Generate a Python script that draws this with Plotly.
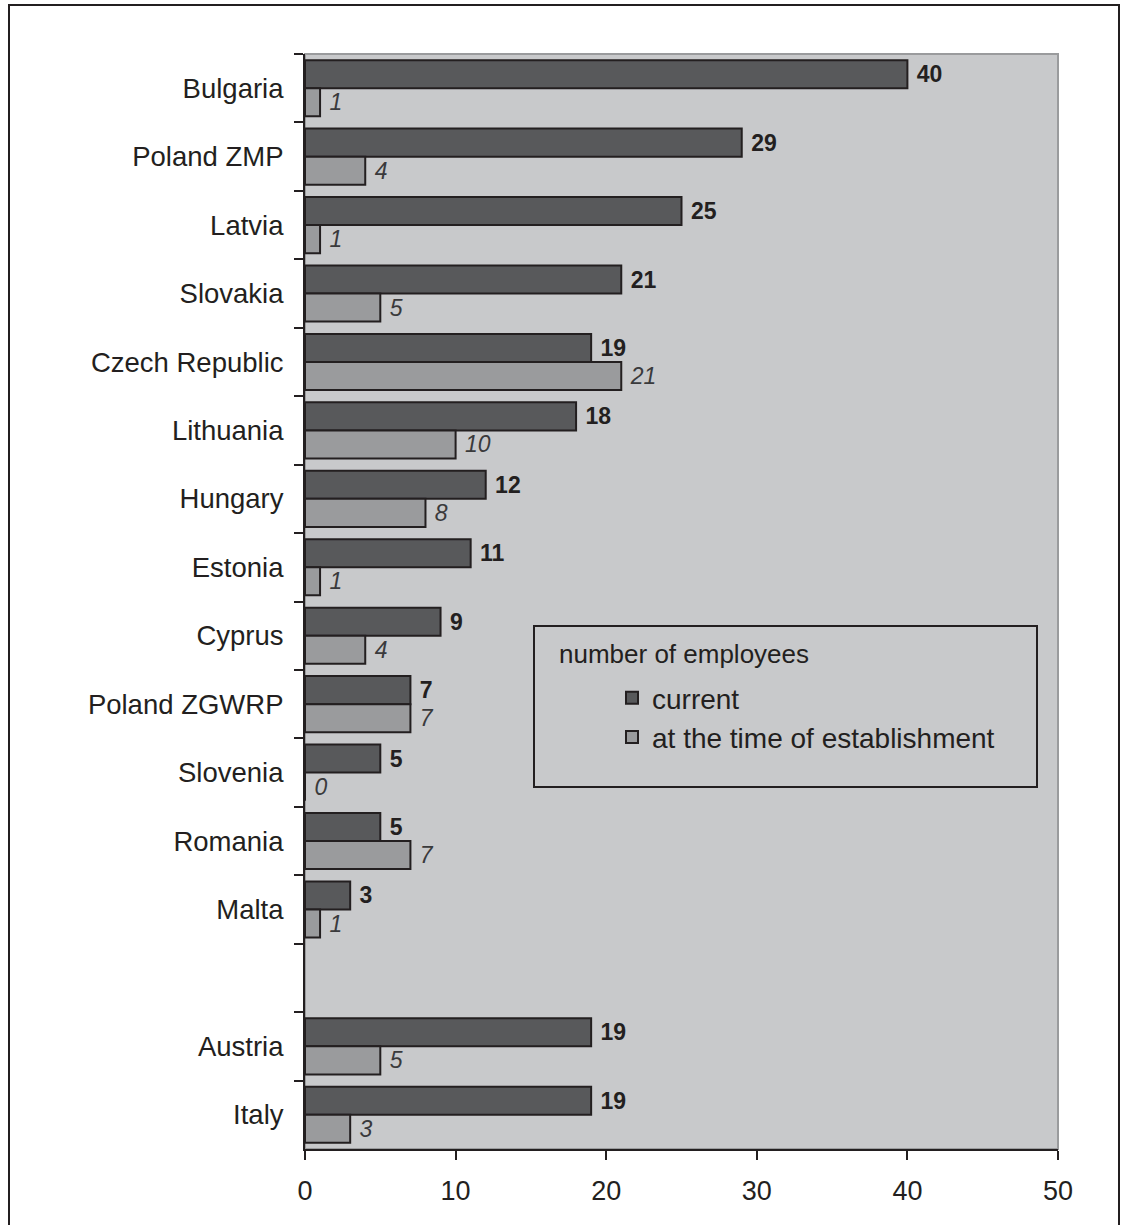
import plotly.graph_objects as go

categories = ["Bulgaria", "Poland ZMP", "Latvia", "Slovakia", "Czech Republic",
              "Lithuania", "Hungary", "Estonia", "Cyprus", "Poland ZGWRP",
              "Slovenia", "Romania", "Malta", " ", "Austria", "Italy"]
current = [40, 29, 25, 21, 19, 18, 12, 11, 9, 7, 5, 5, 3, None, 19, 19]
establishment = [1, 4, 1, 5, 21, 10, 8, 1, 4, 7, 0, 7, 1, None, 5, 3]
x_ticks = [0, 10, 20, 30, 40, 50]

FONT = "Liberation Sans, Arial, sans-serif"
TXT = "#231f20"

W, H = 1121, 1225
ML, MR, MT, MB = 305, 63, 54, 76
PW, PH = W - ML - MR, H - MT - MB

def px_x(p):
    return (p - ML) / PW

def px_y(p):
    return 1 - (p - MT) / PH

fig = go.Figure()
fig.add_trace(go.Bar(
    y=categories, x=current, orientation="h", name="current",
    marker=dict(color="#58595b", line=dict(color="#231f20", width=2)),
    text=[("\u00a0<b>%d</b>" % v) if v is not None else "" for v in current],
    textposition="outside", cliponaxis=False, constraintext="none",
    textfont=dict(family=FONT, size=23, color=TXT),
    legendgroup="a", hoverinfo="x+y",
))
fig.add_trace(go.Bar(
    y=categories, x=establishment, orientation="h", name="at the time of establishment",
    marker=dict(color="#9a9b9d", line=dict(color="#231f20", width=2)),
    text=[("\u00a0<i>%d</i>" % v) if v is not None else "" for v in establishment],
    textposition="outside", cliponaxis=False, constraintext="none",
    textfont=dict(family=FONT, size=23, color="#3a3a3c"),
    legendgroup="b", hoverinfo="x+y",
))

fig.update_layout(
    width=W, height=H,
    margin=dict(l=ML, r=MR, t=MT, b=MB),
    paper_bgcolor="white", plot_bgcolor="#c8c9cb",
    barmode="group", bargap=0.18, bargroupgap=0,
    font=dict(family=FONT, size=26, color=TXT),
    showlegend=True,
    legend=dict(
        x=px_x(612), y=px_y(673), xanchor="left", yanchor="top",
        bgcolor="rgba(0,0,0,0)", borderwidth=0,
        font=dict(family=FONT, size=28, color=TXT),
        tracegroupgap=3, traceorder="normal",
    ),
    xaxis=dict(
        range=[0, 50], tickvals=x_ticks, ticktext=[str(v) for v in x_ticks],
        showgrid=False, zeroline=False,
        showline=True, linecolor="#231f20", linewidth=2,
        ticks="outside", ticklen=9, tickwidth=1.5, tickcolor="#231f20",
        ticklabelstandoff=8,
        tickfont=dict(family=FONT, size=27, color=TXT),
        fixedrange=True,
    ),
    yaxis=dict(
        type="category", categoryorder="array", categoryarray=categories,
        autorange="reversed",
        showgrid=False, zeroline=False,
        showline=True, linecolor="#231f20", linewidth=2,
        ticks="outside", tickson="boundaries", ticklen=9, tickwidth=1.5, tickcolor="#231f20",
        ticklabelstandoff=14,
        tickfont=dict(family=FONT, size=27.5, color=TXT),
        fixedrange=True,
    ),
    shapes=[
        # plot-area frame (top/right grey)
        dict(type="rect", xref="paper", yref="paper", x0=0, x1=1, y0=0, y1=1,
             line=dict(color="#9a9b9d", width=2), layer="below"),
        # legend box
        dict(type="rect", xref="paper", yref="paper",
             x0=px_x(534), x1=px_x(1037), y0=px_y(787), y1=px_y(626),
             line=dict(color="#231f20", width=2), fillcolor="rgba(0,0,0,0)", layer="above"),
        # outer chart frame
        dict(type="rect", xref="paper", yref="paper",
             x0=px_x(9), x1=px_x(1119), y0=px_y(1226), y1=px_y(5),
             line=dict(color="#231f20", width=2), layer="above"),
    ],
    annotations=[
        dict(text="number of employees", xref="paper", yref="paper",
             x=px_x(557), y=px_y(654), xanchor="left", yanchor="middle",
             showarrow=False, font=dict(family=FONT, size=26, color=TXT)),
    ],
)

fig.write_html("out.html")
